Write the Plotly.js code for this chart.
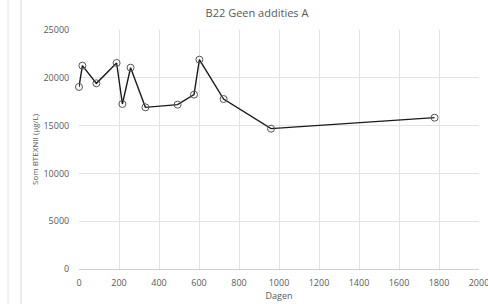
<!DOCTYPE html>
<html><head><meta charset="utf-8">
<script src="https://cdn.plot.ly/plotly-3.0.1.min.js"></script>
<style>html,body{margin:0;padding:0;background:#fff;}#c{width:488px;height:304px;}</style>
</head><body><div id="c"></div>
<script>
const days = [0, 17, 87, 188, 217, 258, 332, 493, 575, 602, 723, 960, 1778];
const btexnii = [19040, 21270, 19420, 21550, 17260, 21060, 16910, 17190, 18240, 21900, 17780, 14680, 15830];
const xTicks = [0,200,400,600,800,1000,1200,1400,1600,1800,2000];
const yTicks = [0,5000,10000,15000,20000,25000];

const trace = {
  x: days, y: btexnii, type: 'scatter', mode: 'lines+markers',
  line: {color: '#1a1a1a', width: 1.4},
  marker: {symbol: 'circle-open', size: 7, color: '#555555', line: {width: 1}},
  hoverinfo: 'none', cliponaxis: false
};
const font = {family: 'Open Sans, sans-serif', color: '#595959', size: 9};
const layout = {
  width: 488, height: 304,
  margin: {l: 79, r: 9, t: 30, b: 35},
  paper_bgcolor: '#fff', plot_bgcolor: '#fff',
  font: font,
  showlegend: false,
  title: {text: 'B22 Geen addities A', font: {family: 'Open Sans, sans-serif', size: 11, color: '#595959'},
          x: 257/488, xanchor: 'center', y: 1 - 13/304, yanchor: 'middle', xref: 'container', yref: 'container'},
  xaxis: {range: [0, 2000], tickvals: xTicks, ticktext: xTicks.map(String), showgrid: true, gridcolor: '#e3e3e3', gridwidth: 1,
          zeroline: false, showline: true, linecolor: '#d0d0d0', ticks: 'outside', ticklen: 5, tickcolor: 'rgba(0,0,0,0)',
          ticklabeloverflow: 'allow',
          tickfont: font, title: {text: 'Dagen', font: font, standoff: 1}, automargin: false},
  yaxis: {range: [0, 25000], tickvals: yTicks, ticktext: yTicks.map(String), showgrid: true, gridcolor: '#e3e3e3', gridwidth: 1,
          zeroline: false, showline: false, ticks: 'outside', ticklen: 7, tickcolor: 'rgba(0,0,0,0)', tickfont: font,
          title: {text: 'Som BTEXNII (µg/L)', font: {family: 'Open Sans, sans-serif', size: 8, color: '#595959'}, standoff: 3}, automargin: false},
  shapes: [
    {type: 'line', xref: 'paper', yref: 'paper', x0: (8-79)/400, x1: (8-79)/400, y0: -35/239, y1: 1+30/239, line: {color: '#e6e6e6', width: 1}},
    {type: 'line', xref: 'paper', yref: 'paper', x0: (21-79)/400, x1: (21-79)/400, y0: -35/239, y1: 1+30/239, line: {color: '#d9d9d9', width: 1}}
  ]
};
Plotly.newPlot('c', [trace], layout, {displayModeBar: false, staticPlot: true});
</script></body></html>
